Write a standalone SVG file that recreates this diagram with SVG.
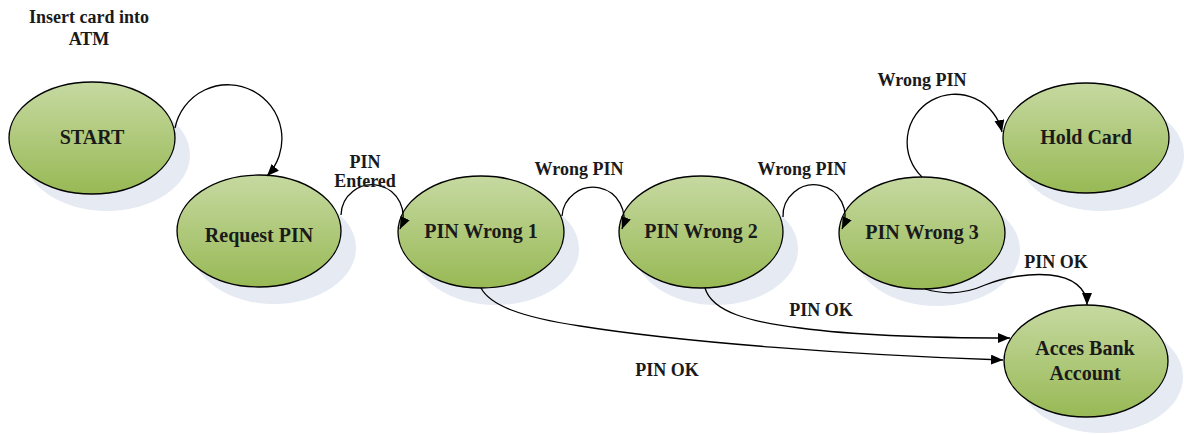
<svg xmlns="http://www.w3.org/2000/svg" width="1184" height="434" viewBox="0 0 1184 434">
<style>
.shadow{fill:#e5eaf3;stroke:none}
.node{fill:url(#g);stroke:#000;stroke-width:1.3}
.nl{font-family:"Liberation Serif","Times New Roman",serif;font-weight:bold;font-size:20px;fill:#1a1a1a;text-anchor:middle}
.el{font-family:"Liberation Serif","Times New Roman",serif;font-weight:bold;font-size:18px;fill:#1a1a1a;text-anchor:middle}
.c{fill:none;stroke:#000;stroke-width:1.3;marker-end:url(#ah)}
</style>
<defs>
<linearGradient id="g" x1="0" y1="0" x2="0" y2="1">
<stop offset="0" stop-color="#c6d9a1"/>
<stop offset="1" stop-color="#98b955"/>
</linearGradient>
<marker id="ah" markerUnits="userSpaceOnUse" markerWidth="14" markerHeight="11" refX="12" refY="5" orient="auto">
<path d="M0,0 L12,5 L0,10 z" fill="#000"/>
</marker>
</defs>
<rect width="1184" height="434" fill="#fff"/>
<text class="el" x="89" y="23">Insert card into</text>
<text class="el" x="89" y="45">ATM</text>
<g id="shadows">
<ellipse class="shadow" cx="107" cy="155" rx="83" ry="56"/>
<ellipse class="shadow" cx="274" cy="248" rx="82" ry="56"/>
<ellipse class="shadow" cx="496" cy="249" rx="83" ry="56"/>
<ellipse class="shadow" cx="716" cy="249" rx="82" ry="56"/>
<ellipse class="shadow" cx="937" cy="250" rx="83" ry="56"/>
<ellipse class="shadow" cx="1101" cy="155" rx="83" ry="56"/>
<ellipse class="shadow" cx="1101" cy="377" rx="82" ry="56"/>
</g>
<g id="start"><ellipse class="node" cx="92" cy="138" rx="83" ry="56"/><text class="nl" x="92" y="144">START</text></g>
<g id="request-pin"><ellipse class="node" cx="259" cy="231" rx="82" ry="56"/><text class="nl" x="259" y="242">Request PIN</text></g>
<g id="pin-wrong-1"><ellipse class="node" cx="481" cy="232" rx="83" ry="56"/><text class="nl" x="481" y="238">PIN Wrong 1</text></g>
<g id="pin-wrong-2"><ellipse class="node" cx="701" cy="232" rx="82" ry="56"/><text class="nl" x="701" y="238">PIN Wrong 2</text></g>
<g id="pin-wrong-3"><ellipse class="node" cx="922" cy="233" rx="83" ry="56"/><text class="nl" x="922" y="239">PIN Wrong 3</text></g>
<g id="hold-card"><ellipse class="node" cx="1086" cy="138" rx="83" ry="55"/><text class="nl" x="1086" y="144">Hold Card</text></g>
<g id="acces-bank-account"><ellipse class="node" cx="1086" cy="361" rx="82" ry="56"/><text class="nl" x="1085" y="355">Acces Bank</text><text class="nl" x="1085" y="380">Account</text></g>
<g id="connectors">
<path class="c" d="M175,128 A54,54 0 1 1 267,176"/>
<path class="c" d="M341,215 A31,31 0 1 1 400,229"/>
<path class="c" d="M562,216 A31,31 0 1 1 622,229"/>
<path class="c" d="M783,217 A31,31 0 1 1 842,229"/>
<path class="c" d="M922,177 A48,48 0 1 1 1002,132"/>
<path class="c" d="M925,289 C945,295 965,294 985,285 C1005,277 1030,273 1050,275 C1072,277 1087,288 1087,305"/>
<path class="c" d="M705,288 C712,312 750,322 800,328 C860,336 930,338 1010,338"/>
<path class="c" d="M481,288 C490,305 520,317 580,326 C680,342 850,355 1003,360"/>
<text class="el" x="365" y="168">PIN</text>
<text class="el" x="365" y="187">Entered</text>
<text class="el" x="579" y="175">Wrong PIN</text>
<text class="el" x="802" y="175">Wrong PIN</text>
<text class="el" x="922" y="86">Wrong PIN</text>
<text class="el" x="1056" y="268">PIN OK</text>
<text class="el" x="821" y="316">PIN OK</text>
<text class="el" x="667" y="376">PIN OK</text>
</g>
</svg>
